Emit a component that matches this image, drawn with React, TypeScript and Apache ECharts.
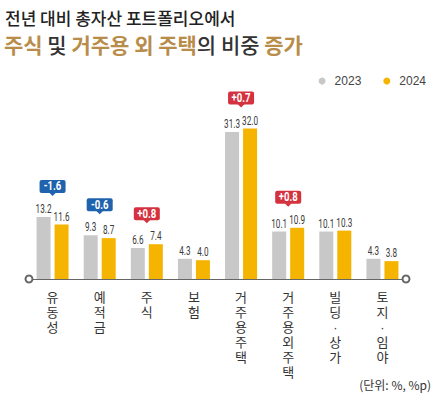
import React, { useEffect, useRef } from "react";
import * as echarts from "echarts";

const categories = ["유동성", "예적금", "주식", "보험", "거주용 주택", "거주용 외 주택", "빌딩·상가", "토지·임야"];
const values2023 = [13.2, 9.3, 6.6, 4.3, 31.3, 10.1, 10.1, 4.3];
const values2024 = [11.6, 8.7, 7.4, 4.0, 32.0, 10.9, 10.3, 3.8];
const badgeChanges: (number | null)[] = [-1.6, -0.6, 0.8, null, 0.7, 0.8, null, null];
const seriesNames = ["2023", "2024"];

const KR = "'Noto Sans CJK KR', 'Noto Sans', sans-serif";
const KR_TIGHT = "'Liberation Sans', 'Noto Sans CJK KR', sans-serif";
const NUM = "'Roboto', 'Liberation Sans', sans-serif";

const BAR_W = 14;
const BAR_GAP = 4;

export default function App() {
  const ref = useRef<HTMLDivElement>(null);
  useEffect(() => {
    document.body.style.margin = "0";
    const chart = echarts.init(ref.current!, null, { renderer: "svg" });
    const badgeData: any[] = [];
    badgeChanges.forEach((c, i) => {
      if (c !== null) badgeData.push([i, Math.max(values2023[i], values2024[i]), c]);
    });
    const labelSeries = (vals: number[], side: number) => ({
      type: "custom",
      data: vals.map((v, i) => [i, v]),
      encode: { x: 0, y: 1 },
      z: 5,
      silent: true,
      renderItem: (params: any, api: any) => {
        const pt = api.coord([api.value(0), api.value(1)]);
        return {
          type: "text",
          x: pt[0] + side * (BAR_W + BAR_GAP) / 2,
          y: pt[1] - 2,
          scaleX: 0.68,
          style: {
            text: api.value(1).toFixed(1),
            fontSize: 12,
            fill: "#3a3a3a",
            align: "center",
            verticalAlign: "bottom",
            fontFamily: NUM,
          },
        };
      },
    });
    chart.setOption({
      animation: false,
      title: [
        {
          text: "전년 대비 총자산 포트폴리오에서",
          left: 5,
          top: 9,
          padding: 0,
          textStyle: { fontSize: 17, fontWeight: 500, color: "#222", fontFamily: KR },
        },
        {
          text: "{g|주식} 및 {g|거주용 외 주택}의 비중 {g|증가}",
          left: 4,
          top: 33,
          padding: 0,
          textStyle: {
            fontSize: 21,
            fontWeight: 500,
            color: "#333",
            fontFamily: KR,
            rich: { g: { color: "#b88d4a", fontSize: 21, fontWeight: "bold", fontFamily: KR } },
          },
        },
      ],
      legend: {
        data: seriesNames,
        right: 15,
        top: 70,
        icon: "circle",
        itemWidth: 7,
        itemHeight: 7,
        itemGap: 22,
        textStyle: { fontSize: 12, color: "#444", fontFamily: "'Liberation Sans', Arial, sans-serif", padding: [0, 0, 0, 4] },
      },
      graphic: [
        {
          type: "text",
          right: 15,
          top: 378,
          style: { text: "(단위: %, %p)", fontSize: 12, fill: "#333", fontFamily: KR },
        },
      ],
      grid: { left: 29, right: 40, top: 91, bottom: 117 },
      xAxis: {
        type: "category",
        data: categories,
        axisTick: { show: false },
        axisLine: {
          lineStyle: { color: "#666", width: 1 },
          symbol: ["emptyCircle", "emptyCircle"],
          symbolSize: [7, 7],
        },
        axisLabel: {
          interval: 0,
          margin: 11,
          fontSize: 13,
          lineHeight: 15,
          color: "#333",
          fontFamily: KR_TIGHT,
          formatter: (v: string) => v.replace(/\s/g, "").split("").join("\n"),
        },
      },
      yAxis: { type: "value", min: 0, max: 40, show: false, splitLine: { show: false } },
      series: [
        {
          name: seriesNames[0],
          type: "bar",
          data: values2023,
          barWidth: BAR_W,
          barGap: (BAR_GAP / BAR_W) * 100 + "%",
          itemStyle: { color: "#c8c8c8" },
        },
        {
          name: seriesNames[1],
          type: "bar",
          data: values2024,
          barWidth: BAR_W,
          itemStyle: { color: "#f5b400" },
        },
        labelSeries(values2023, -1),
        labelSeries(values2024, 1),
        {
          type: "custom",
          data: badgeData,
          encode: { x: 0, y: 1 },
          z: 10,
          silent: true,
          renderItem: (params: any, api: any) => {
            const pt = api.coord([api.value(0), api.value(1)]);
            const c = api.value(2);
            const color = c > 0 ? "#d4323f" : "#1f62ad";
            const tipY = pt[1] - 21;
            const w = 26;
            const h = 13;
            const x = pt[0];
            const txt = c > 0 ? "+" + c.toFixed(1) : c.toFixed(1);
            return {
              type: "group",
              children: [
                {
                  type: "rect",
                  shape: { x: x - w / 2, y: tipY - 3 - h, width: w, height: h, r: 2 },
                  style: { fill: color },
                },
                {
                  type: "polygon",
                  shape: { points: [[x - 3.5, tipY - 3.5], [x + 3.5, tipY - 3.5], [x, tipY]] },
                  style: { fill: color },
                },
                {
                  type: "text",
                  x: x,
                  y: tipY - 3 - h / 2,
                  scaleX: 0.8,
                  style: {
                    text: txt,
                    fontSize: 12,
                    fontWeight: "bold",
                    fill: "#fff",
                    align: "center",
                    verticalAlign: "middle",
                    fontFamily: NUM,
                  },
                },
              ],
            };
          },
        },
      ],
    });
    return () => chart.dispose();
  }, []);
  return <div ref={ref} style={{ width: 446, height: 396 }} />;
}
